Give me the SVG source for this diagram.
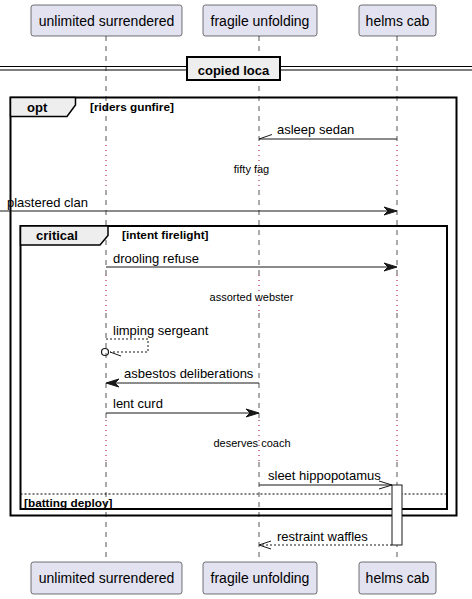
<svg xmlns="http://www.w3.org/2000/svg" width="472" height="599" viewBox="0 0 472 599">
<defs>
<style>
.part{fill:#E2E2F0;stroke:#181818;stroke-width:0.6}
.pt{font-family:"Liberation Sans",Arial,sans-serif;font-size:14px;fill:#000;text-anchor:middle}
.life{stroke:#555;stroke-width:1;stroke-dasharray:5,5;fill:none}
.delay{stroke:#A80036;stroke-width:1;stroke-dasharray:1,4;fill:none}
.msg{stroke:#181818;stroke-width:1;fill:none}
.dash{stroke:#181818;stroke-width:1;fill:none;stroke-dasharray:2,2}
.head{fill:#181818;stroke:#181818;stroke-width:1}
.mt{font-family:"Liberation Sans",Arial,sans-serif;font-size:13px;fill:#000}
.dt{font-family:"Liberation Sans",Arial,sans-serif;font-size:11px;fill:#000;text-anchor:middle}
.ft{font-family:"Liberation Sans",Arial,sans-serif;font-size:13px;font-weight:bold;fill:#000}
.gt{font-family:"Liberation Sans",Arial,sans-serif;font-size:11.8px;font-weight:bold;fill:#000}
.frame{fill:none;stroke:#000;stroke-width:2}
.tab{fill:#EEEEEE;stroke:#000;stroke-width:1.5}
</style>
</defs>
<g id="lifelines">
<path class="life" d="M106,36 V145 M106,190 V275 M106,313 V420 M106,462 V562"/>
<path class="delay" d="M106,145 V190 M106,275 V313 M106,420 V462"/>
<path class="life" d="M259,36 V145 M259,190 V275 M259,313 V420 M259,462 V562"/>
<path class="delay" d="M259,145 V190 M259,275 V313 M259,420 V462"/>
<path class="life" d="M397,36 V145 M397,190 V275 M397,313 V420 M397,462 V562"/>
<path class="delay" d="M397,145 V190 M397,275 V313 M397,420 V462"/>
</g>
<g id="divider">
<line x1="0" y1="66.5" x2="472" y2="66.5" stroke="#000" stroke-width="1.2"/>
<line x1="0" y1="70" x2="472" y2="70" stroke="#000" stroke-width="1.2"/>
<rect x="187" y="57" width="93" height="23" fill="#EEEEEE" stroke="#000" stroke-width="2"/>
<text class="ft" x="233.5" y="74.5" text-anchor="middle">copied loca</text>
</g>
<g id="opt">
<rect class="frame" x="10.5" y="97.5" width="446" height="418" stroke-width="2.5"/>
<path class="tab" d="M10.5,97.5 H75.5 V105 L67,116.5 H10.5 Z"/>
<text class="ft" x="27" y="112">opt</text>
<text class="gt" x="90" y="111">[riders gunfire]</text>
</g>
<g id="critical">
<rect class="frame" x="20.5" y="226" width="426.5" height="283"/>
<path class="tab" d="M20.5,226 H108 V235.5 L100,245 H20.5 Z"/>
<text class="ft" x="36" y="240">critical</text>
<text class="gt" x="122" y="239">[intent firelight]</text>
<line x1="20.5" y1="494" x2="447" y2="494" stroke="#000" stroke-width="1" stroke-dasharray="2,2"/>
<text class="gt" x="24" y="507">[batting deploy]</text>
</g>
<g id="activation">
<rect x="392" y="485" width="10" height="60" fill="#fff" stroke="#181818" stroke-width="1"/>
</g>
<g id="connectors">
<line class="msg" x1="397" y1="139" x2="259" y2="139"/>
<line class="msg" x1="259" y1="139" x2="272" y2="134.5"/>
<text class="mt" x="277" y="134">asleep sedan</text>
<text class="dt" x="251.5" y="173">fifty fag</text>
<line class="msg" x1="0" y1="211" x2="395" y2="211"/>
<polygon class="head" points="384,207 397,211 384,215 388,211"/>
<text class="mt" x="7" y="207">plastered clan</text>
<line class="msg" x1="106" y1="267" x2="395" y2="267"/>
<polygon class="head" points="384,263 397,267 384,271 388,267"/>
<text class="mt" x="113" y="263">drooling refuse</text>
<text class="dt" x="251.5" y="301">assorted webster</text>
<polyline class="dash" points="106,339 148,339 148,352 110,352" stroke-dasharray="3,2"/>
<circle cx="105" cy="352" r="3.5" fill="none" stroke="#181818" stroke-width="1.2"/>
<line class="msg" x1="110" y1="352" x2="121" y2="356"/>
<text class="mt" x="113" y="335">limping sergeant</text>
<line class="msg" x1="259" y1="383" x2="108" y2="383"/>
<polygon class="head" points="119,379 106,383 119,387 115,383"/>
<text class="mt" x="124" y="378">asbestos deliberations</text>
<line class="msg" x1="106" y1="413" x2="257" y2="413"/>
<polygon class="head" points="246,409 259,413 246,417 250,413"/>
<text class="mt" x="113" y="408">lent curd</text>
<text class="dt" x="252" y="446.5">deserves coach</text>
<line class="msg" x1="259" y1="485" x2="392" y2="485"/>
<polyline class="msg" points="379,481 392,485 379,489"/>
<text class="mt" x="268" y="480">sleet hippopotamus</text>
<line class="dash" x1="392" y1="545" x2="260" y2="545"/>
<polyline class="msg" points="271,541 259,545 271,549"/>
<text class="mt" x="277" y="540.5">restraint waffles</text>
</g>
<g id="p1">
<rect class="part" x="31" y="5" width="151" height="31" rx="2.5"/>
<text class="pt" x="106.5" y="26">unlimited surrendered</text>
<rect class="part" x="31" y="562" width="151" height="32" rx="2.5"/>
<text class="pt" x="106.5" y="583">unlimited surrendered</text>
</g>
<g id="p2">
<rect class="part" x="203" y="5" width="114" height="31" rx="2.5"/>
<text class="pt" x="260" y="26">fragile unfolding</text>
<rect class="part" x="203" y="562" width="114" height="32" rx="2.5"/>
<text class="pt" x="260" y="583">fragile unfolding</text>
</g>
<g id="p3">
<rect class="part" x="359" y="5" width="77" height="31" rx="2.5"/>
<text class="pt" x="397.5" y="26">helms cab</text>
<rect class="part" x="359" y="562" width="77" height="32" rx="2.5"/>
<text class="pt" x="397.5" y="583">helms cab</text>
</g>
</svg>
